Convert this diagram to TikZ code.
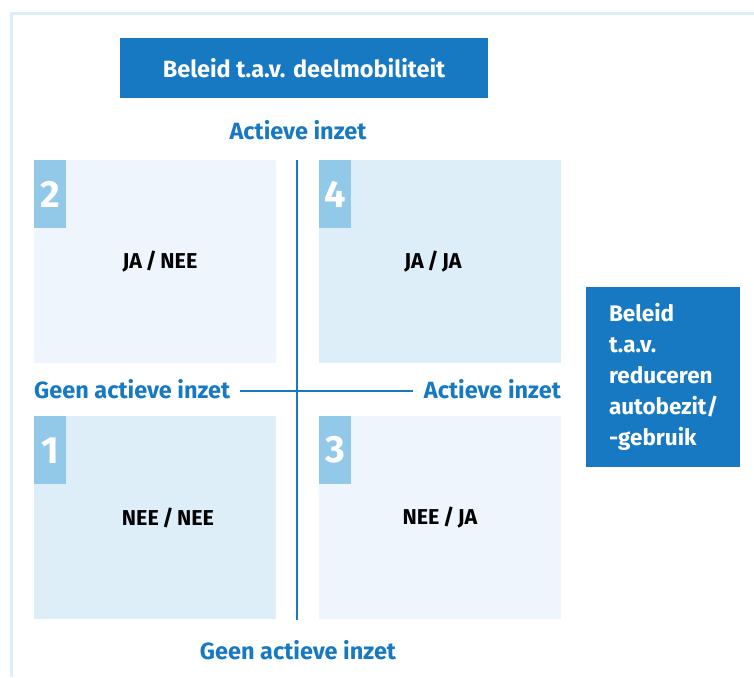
\documentclass[tikz,border=0pt]{standalone}
\usepackage{fontspec}
\setmainfont{Fira Sans}
\usepackage{tikz}
\usetikzlibrary{positioning}
\definecolor{rijksblauw}{RGB}{23,121,193}
\definecolor{tabblauw}{RGB}{147,201,232}
\definecolor{vlaklicht}{RGB}{238,245,252}
\definecolor{vlakmidden}{RGB}{221,238,248}
\definecolor{kader}{RGB}{221,238,250}

\begin{document}
\begin{tikzpicture}[
    x=1pt, y=-1pt,
    every node/.style={font=\bfseries\fontsize{23.5}{31}\selectfont},
    kwadrant/.style={rectangle, anchor=north west, inner sep=0pt,
                     minimum width=242pt, minimum height=203pt},
    tab/.style={rectangle, anchor=north west, fill=tabblauw, text=white,
                inner sep=0pt, minimum width=32pt, minimum height=68pt,
                font=\bfseries\fontsize{38}{40}\selectfont},
    keuze/.style={font=\bfseries\fontsize{21.5}{24}\selectfont},
    beleid/.style={rectangle, fill=rijksblauw, text=white, inner sep=0pt},
    as/.style={text=rijksblauw, inner sep=0pt},
    aslijn/.style={draw=rijksblauw, line width=2.6pt},
]
\useasboundingbox (0,0) rectangle (754,677);

% kader
\draw[kader, line width=3pt] (11,677) -- (11,14) -- (754,14);

% beleidsdimensies
\node[beleid, minimum width=368pt, minimum height=60pt] (deel) at (304,68)
    {Beleid t.a.v. deelmobiliteit};
\node[beleid, minimum width=154pt, minimum height=180pt,
      text width=108pt, align=left,
      font=\bfseries\fontsize{22.5}{31}\selectfont] (auto) at (663,377)
    {Beleid\\t.a.v.\\reduceren\\autobezit/\\-gebruik};

% kwadranten
\node[kwadrant, fill=vlaklicht] (q2) at (34,160) {};
\node[kwadrant, fill=vlakmidden] (q4) at (319,160) {};
\node[kwadrant, fill=vlakmidden] (q1) at (34,416) {};
\node[kwadrant, fill=vlaklicht] (q3) at (319,416) {};

\node[tab] (t2) at (q2.north west) {2};
\node[tab] (t4) at (q4.north west) {4};
\node[tab] (t1) at (q1.north west) {1};
\node[tab] (t3) at (q3.north west) {3};

\node[keuze] (l2) at (160,262) {JA\,/\,NEE};
\node[keuze] (l4) at (433,262) {JA\,/\,JA};
\node[keuze] (l1) at (168,518) {NEE\,/\,NEE};
\node[keuze] (l3) at (440,518) {NEE\,/\,JA};

% assen
\node[as] (boven) at (298,130) {Actieve inzet};
\node[as] (onder) at (298,650) {Geen actieve inzet};
\node[as, anchor=west] (links) at (34,389) {Geen actieve inzet};
\node[as, anchor=east] (rechts) at (561,389) {Actieve inzet};

\coordinate (ytop) at (297,160);
\coordinate (ybot) at (297,620);
\draw[aslijn] (ytop) -- (ybot);
\draw[aslijn] (links.east |- 0,391) ++(10,0) -- ([xshift=-11pt]rechts.west |- 0,391);

\end{tikzpicture}
\end{document}
